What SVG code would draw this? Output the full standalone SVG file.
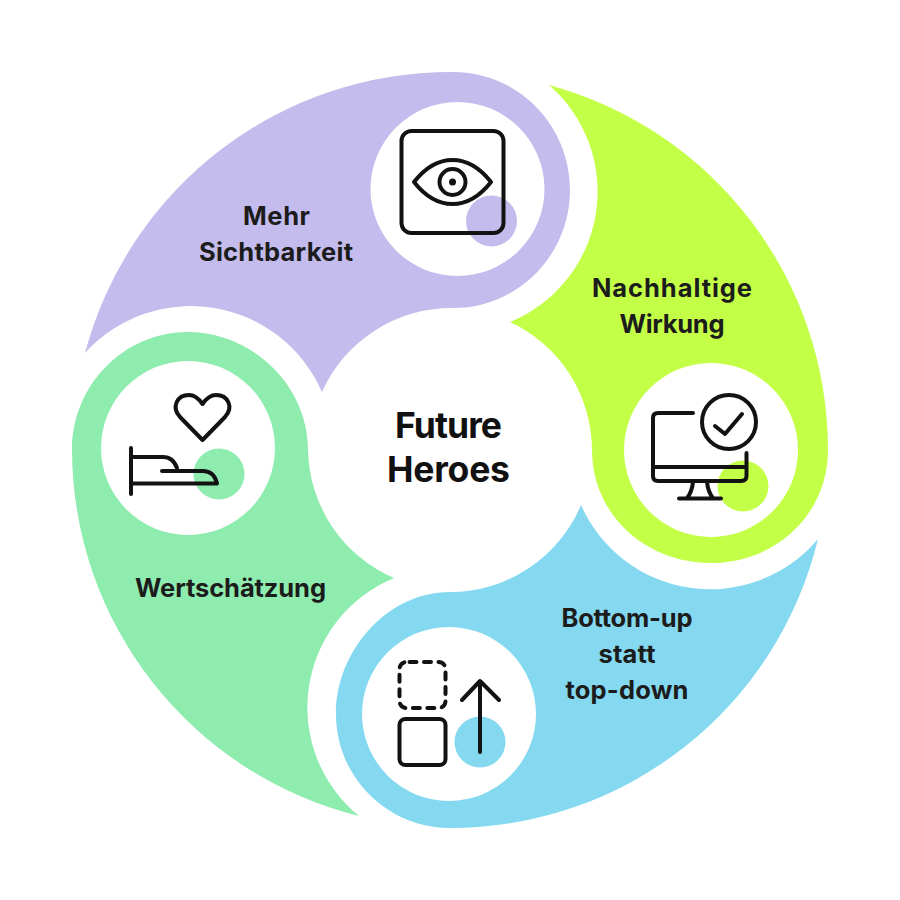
<svg xmlns="http://www.w3.org/2000/svg" width="900" height="900" viewBox="0 0 900 900">
<style>
.ic{fill:none;stroke:#121212;stroke-width:4;stroke-linecap:round;stroke-linejoin:round}
.w{fill:#fff}
text{font-family:"Inter","Liberation Sans",sans-serif;font-weight:700;fill:#1c1c1c;text-anchor:middle;font-size:25.5px}
.c{font-size:35.5px;fill:#111}
</style>
<rect width="900" height="900" fill="#fff"/>
<g id="node-sichtbarkeit">
<path fill="#C3BCEC" d="M85,353A378,378 0 0 1 453,72C518,72 570,125 570,190C570,255 518,308 453,308A142,142 0 0 0 322,392A143,143 0 0 0 85,353Z"/>
<circle class="w" cx="457.500" cy="189" r="87"/>
<circle fill="#C3BCEC" cx="491.500" cy="221" r="25.5"/>
<rect class="ic" x="401.500" y="131" width="102" height="102" rx="10"/>
<path class="ic" d="M414,182C425,168 438,160 452.500,160C467,160 480,168 491,182C480,196 467,204 452.500,204C438,204 425,196 414,182Z"/>
<circle class="ic" cx="452.500" cy="182" r="13"/>
<circle fill="#121212" cx="452.500" cy="182" r="3.500"/>
<text x="276.500" y="225" textLength="67">Mehr</text>
<text x="276" y="261" textLength="154">Sichtbarkeit</text>
</g>
<g id="node-wirkung">
<path fill="#C4FF47" d="M549,85A378,378 0 0 1 828,450C828,514 776,563 711,563C646,563 592,515 592,450A142,142 0 0 0 510,322A141,141 0 0 0 549,85Z"/>
<circle class="w" cx="711" cy="450" r="87"/>
<circle fill="#C4FF47" cx="743" cy="486" r="25.500"/>
<path class="ic" d="M693,413H658Q653,413 653,418V476Q653,481 658,481H741Q746.500,481 746.500,476V453M653,467H746M693,482Q692,492 687,498M707,482Q708,492 713,498M679,498.500H721"/>
<circle class="ic" cx="729" cy="422" r="27"/>
<path class="ic" d="M715,426L725,434L742,414"/>
<text x="672" y="297" textLength="160">Nachhaltige</text>
<text x="672" y="333" textLength="105">Wirkung</text>
</g>
<g id="node-bottomup">
<path fill="#84D9F0" d="M818,539A378,378 0 0 1 450,828C387,828 336,777 336,714C336,651 387,592 450,592A142,142 0 0 0 581,505A141,141 0 0 0 818,539Z"/>
<circle class="w" cx="449" cy="714" r="87"/>
<circle fill="#84D9F0" cx="480" cy="742" r="25.500"/>
<rect class="ic" x="399.500" y="662" width="46" height="46" rx="7" stroke-dasharray="7 7.500" stroke-dashoffset="-3"/>
<rect class="ic" x="399.500" y="719" width="46" height="46" rx="6"/>
<path class="ic" d="M480,752V682M462,700L480,681L499,700"/>
<text x="627" y="627" textLength="131">Bottom-up</text>
<text x="627" y="663" textLength="57">statt</text>
<text x="627" y="699" textLength="123">top-down</text>
</g>
<g id="node-wertschaetzung">
<path fill="#8FECAF" d="M359,816A378,378 0 0 1 72,450C72,385 124,332 188,332C252,332 308,385 308,450A142,142 0 0 0 394,578A140,140 0 0 0 359,816Z"/>
<circle class="w" cx="188" cy="448" r="87"/>
<circle fill="#8FECAF" cx="219" cy="474" r="25.500"/>
<path class="ic" d="M202.500,440L180,417C171,407 177,395 189,395C195,395 199,399 202.500,404C206,399 210,395 216,395C228,395 234,407 225,417Z"/>
<path class="ic" d="M131,448V494M131,457H163Q173,457 177,468M162,471H203Q214,471 217,483.500H131"/>
<text x="230.500" y="597" textLength="191">Wertschätzung</text>
</g>
<g id="node-center">
<text class="c" x="448.500" y="438" textLength="107">Future</text>
<text class="c" x="448.500" y="482" textLength="123">Heroes</text>
</g>
<g id="connectors"/>
</svg>
